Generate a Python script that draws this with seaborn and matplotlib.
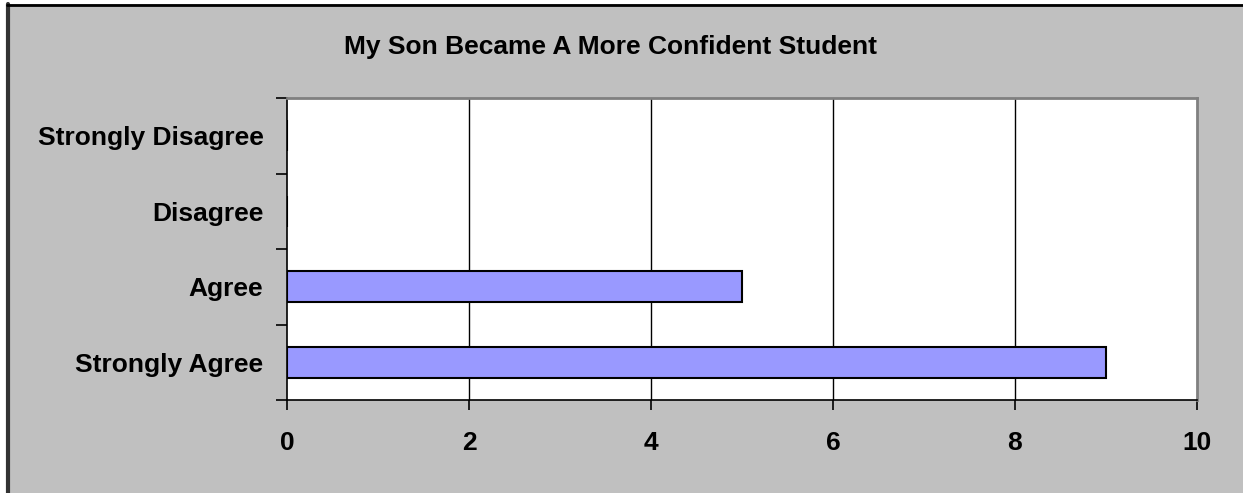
import matplotlib
matplotlib.use("Agg")
import matplotlib.pyplot as plt
import seaborn as sns
import pandas as pd
from matplotlib.patches import Rectangle
from matplotlib.ticker import FixedLocator

categories = ["Strongly Disagree", "Disagree", "Agree", "Strongly Agree"]
counts = [0, 0, 5, 9]
x_ticks = [0, 2, 4, 6, 8, 10]
title = "My Son Became A More Confident Student"

sns.set_theme(style="white")
plt.rcParams['font.family'] = ['Liberation Sans', 'DejaVu Sans']
plt.rcParams['text.color'] = 'black'
plt.rcParams['xtick.color'] = 'black'
plt.rcParams['ytick.color'] = 'black'

df = pd.DataFrame({"category": categories, "count": counts})

fig = plt.figure(figsize=(12.43, 4.93), dpi=100, facecolor="white")
bg = Rectangle((7/1243, 0), 1 - 7/1243, 1 - 4/493, transform=fig.transFigure,
               facecolor="#C0C0C0", edgecolor="none", zorder=0)
fig.patches.append(bg)
fig.add_artist(plt.Line2D([7.5/1243, 7.5/1243], [0, 1 - 4/493], color="#333333", lw=3, transform=fig.transFigure, zorder=0.5))
fig.add_artist(plt.Line2D([7/1243, 1], [1 - 4.5/493, 1 - 4.5/493], color="black", lw=2, transform=fig.transFigure, zorder=0.5))

ax = fig.add_axes([287/1243, 1 - 400/493, (1197-287)/1243, (400-98)/493])
ax.set_zorder(2)
ax.set_facecolor("white")

sns.barplot(data=df, y="category", x="count", order=categories, orient="h",
            color="#9999FF", edgecolor="black", linewidth=1.5, width=0.41,
            saturation=1, ax=ax, zorder=3)

ax.set_xlim(0, 10)
ax.set_ylim(3.5, -0.5)
ax.set_xticks(x_ticks)
ax.set_xticklabels([str(t) for t in x_ticks], fontsize=19, fontweight="bold")
ax.set_yticks(range(len(categories)))
ax.set_yticklabels(categories, fontsize=19, fontweight="bold")
ax.yaxis.set_minor_locator(FixedLocator([-0.5, 0.5, 1.5, 2.5, 3.5]))
ax.tick_params(axis="y", which="major", left=True, length=0, pad=17)
ax.tick_params(axis="y", which="minor", left=True, length=8, width=1.2, color="black", direction="out")
ax.tick_params(axis="x", which="major", bottom=True, length=7, width=1.2, color="black", direction="out", pad=15)
ax.set_xlabel("")
ax.set_ylabel("")

for x in x_ticks[1:-1]:
    ax.axvline(x, color="black", lw=1, zorder=1)

for s in ["left", "bottom"]:
    ax.spines[s].set_color("black")
    ax.spines[s].set_linewidth(1.2)
for s in ["top", "right"]:
    ax.spines[s].set_color("#808080")
    ax.spines[s].set_linewidth(2)
    ax.spines[s].set_visible(True)

fig.text(611/1243, 1 - 47/493, title, ha="center", va="center", fontsize=19, fontweight="bold", color="black")

fig.savefig("out.png", dpi=100, facecolor="white")
